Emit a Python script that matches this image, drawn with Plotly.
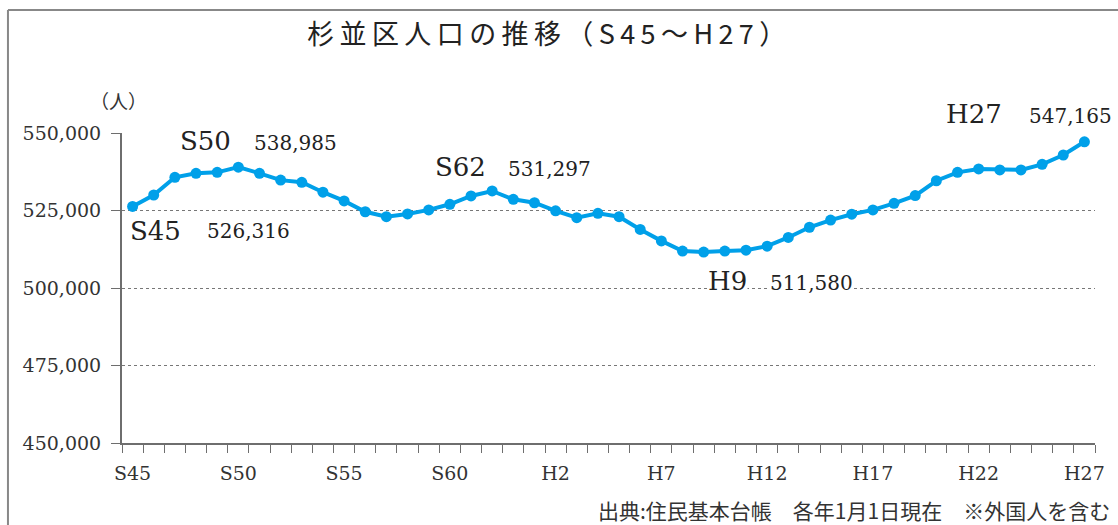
import plotly.graph_objects as go

years = ["S%d" % y for y in range(45, 65)] + ["H%d" % y for y in range(2, 28)]
population = [
    526316, 530000, 535700, 537000, 537300, 538985, 537000, 534800, 534100, 530900,
    528100, 524600, 523000, 523900, 525200, 527000, 529700, 531297, 528600, 527500,
    524900, 522700, 524100, 523000, 518900, 515200, 511900, 511580, 511900, 512200,
    513500, 516300, 519600, 521900, 523800, 525200, 527300, 529800, 534600, 537300,
    538400, 538100, 538100, 539900, 542900, 547165,
]
tick_text = [y if i % 5 == 0 else "" for i, y in enumerate(years)]
y_ticks = [450000, 475000, 500000, 525000, 550000]

# highlighted points: (era label, value)
callouts = [("S45", 526316), ("S50", 538985), ("S62", 531297), ("H9", 511580), ("H27", 547165)]

SERIF = "DejaVu Serif, serif"
BLUE = "#00a0e9"
GRAY = "#6e6e6e"
TXT = "#222"

fig = go.Figure()
fig.add_trace(go.Scatter(
    x=years, y=population, mode="lines+markers",
    line=dict(color=BLUE, width=4),
    marker=dict(color=BLUE, size=11),
    hoverinfo="x+y",
))

# label offsets in pixels from the point: (era text, value text)
offsets = {
    "S45": ((23, -25), (116, -25)),
    "S50": ((-33, 26), (57, 24)),
    "S62": ((-32, 24), (57, 22)),
    "H9": ((24, -29), (108, -31)),
    "H27": ((-110, 28), (-14, 26)),
}
for era, val in callouts:
    (ex, ey), (vx, vy) = offsets[era]
    fig.add_annotation(x=era, y=val, text=era, showarrow=False, xshift=ex, yshift=ey,
                       font=dict(family=SERIF, size=26, color=TXT),
                       bgcolor="white", borderpad=0)
    fig.add_annotation(x=era, y=val, text=f"{val:,}", showarrow=False, xshift=vx, yshift=vy,
                       font=dict(family=SERIF, size=20, color=TXT),
                       bgcolor="white", borderpad=0)

fig.add_annotation(xref="paper", yref="paper", x=-0.004, y=1.106, text="（人）",
                   showarrow=False, xanchor="center", yanchor="middle",
                   font=dict(family="Noto Sans CJK JP", size=19, color="#333"))
fig.add_annotation(xref="paper", yref="paper", x=1.0175, y=-0.216,
                   xanchor="right", yanchor="middle",
                   text="出典:住民基本台帳　各年1月1日現在　※外国人を含む", showarrow=False,
                   font=dict(family="Noto Sans CJK JP", size=21, color="#333"))

# outer frame (left and top edges)
fig.add_shape(type="line", xref="paper", yref="paper", x0=-0.1172, x1=-0.1172, y0=1.397, y1=-0.3,
              line=dict(color="#888", width=2))
fig.add_shape(type="line", xref="paper", yref="paper", x0=-0.1172, x1=1.05, y0=1.397, y1=1.397,
              line=dict(color="#888", width=2))

fig.update_xaxes(
    type="category", range=[-0.5, len(years) - 0.5],
    tickmode="array", tickvals=years, ticktext=tick_text,
    tickson="boundaries", ticks="outside", ticklen=8, tickcolor=GRAY, tickangle=0,
    ticklabelstandoff=12,
    showline=True, linecolor=GRAY, linewidth=2, showgrid=False,
    tickfont=dict(family=SERIF, size=19, color="#333"),
)
fig.update_yaxes(
    range=[450000, 550000], tickvals=y_ticks, ticktext=[f"{v:,}" for v in y_ticks],
    ticks="outside", ticklen=9, tickcolor=GRAY, ticklabelstandoff=6,
    showline=True, linecolor=GRAY, linewidth=2,
    showgrid=True, gridcolor="#777", griddash="dot", gridwidth=1,
    tickfont=dict(family=SERIF, size=19, color="#333"), zeroline=False,
)

title = "\u2009".join("杉並区人口の推移（S45～H27）")
fig.update_layout(
    width=1118, height=525,
    margin=dict(l=122, r=23, t=133, b=82),
    paper_bgcolor="white", plot_bgcolor="white",
    showlegend=False,
    title=dict(text=title, x=0.489, xanchor="center", y=0.935, yanchor="middle",
               font=dict(family="Noto Sans CJK JP", size=27, color=TXT)),
)

fig.write_html("out.html", config={"displayModeBar": False},
               post_script="document.body.style.margin='0';")
